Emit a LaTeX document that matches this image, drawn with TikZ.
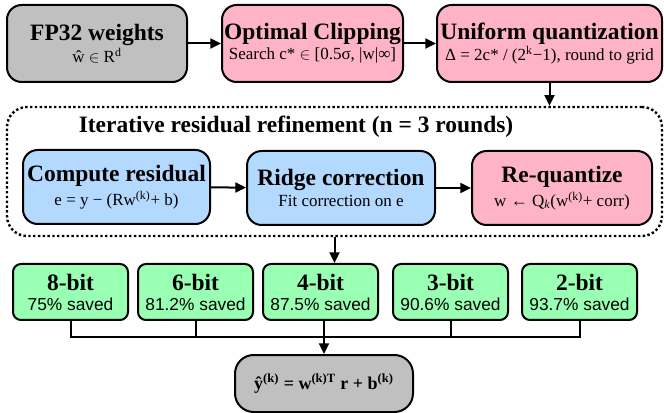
\documentclass[tikz,border=0pt]{standalone}
\usepackage{fontspec}
\setmainfont{Liberation Serif}
\setsansfont{Liberation Sans}
\usetikzlibrary{arrows.meta}

\definecolor{fpgray}{HTML}{C0C0C0}
\definecolor{qpink}{HTML}{FFB3C6}
\definecolor{rblue}{HTML}{B3D9FF}
\definecolor{bgreen}{HTML}{99FFB3}

\newcommand{\hd}{\fontsize{17.6}{18}\selectfont\bfseries}
\newcommand{\subtxt}{\fontsize{12.75}{15}\selectfont}
\newcommand{\savedtxt}{\fontsize{13}{15}\selectfont\sffamily}

\begin{document}
\begin{tikzpicture}
  [x=0.75pt, y=-0.75pt,
   box/.style={draw, line width=1.5pt, rounded corners=11pt, align=center, inner sep=0pt},
   stage/.style={box, minimum height=57.75pt},
   inner/.style={box, fill=rblue, minimum height=55.5pt},
   bitbox/.style={box, fill=bgreen, rounded corners=6pt, minimum width=86.25pt, minimum height=42pt},
   arr/.style={line width=1.5pt, -{Triangle[length=8pt,width=7.5pt]}},
   link/.style={line width=1.5pt}]
  \useasboundingbox (0,0) rectangle (664,413);

  \node[stage, fill=fpgray, minimum width=135pt] (fp) at (97,43.5)
    {{\hd FP32 weights}\\[1pt]{\subtxt ŵ $\in$ R\textsuperscript{d}}};
  \node[stage, fill=qpink, minimum width=135.75pt] (clip) at (312.5,43.5)
    {{\hd Optimal Clipping}\\[1pt]{\subtxt Search c* $\in$ [0.5σ, |w|∞]}};
  \node[stage, fill=qpink, minimum width=168.75pt] (unif) at (549.5,43.5)
    {{\hd Uniform quantization}\\[1pt]{\subtxt Δ = 2c* / (2\textsuperscript{k}−1), round to grid}};

  \node[draw, line width=1.8pt, dash pattern=on 1.8pt off 1.8pt, rounded corners=15pt,
        minimum width=491.25pt, minimum height=96.75pt] (loop) at (334.5,171.5) {};
  \node[font=\hd] (looptitle) at (296,127) {Iterative residual refinement (n = 3 rounds)};

  \node[inner, minimum width=140.25pt] (resid) at (116.5,187)
    {{\hd Compute residual}\\[2.5pt]{\subtxt e = y − (Rw\textsuperscript{(k)}+ b)}};
  \node[inner, minimum width=141pt] (ridge) at (341,188)
    {{\hd Ridge correction}\\[2.5pt]{\subtxt Fit correction on e}};
  \node[inner, fill=qpink, minimum width=135pt] (requant) at (562,188)
    {{\hd Re-quantize}\\[2.5pt]{\subtxt w ← Q\textsubscript{\textit{k}}(w\textsuperscript{(k)}+ corr)}};

  \node[bitbox] (b8) at (70.5,292) {{\hd 8-bit}\\[3pt]{\savedtxt 75\% saved}};
  \node[bitbox] (b6) at (195.5,292) {{\hd 6-bit}\\[3pt]{\savedtxt 81.2\% saved}};
  \node[bitbox] (b4) at (320.5,292) {{\hd 4-bit}\\[3pt]{\savedtxt 87.5\% saved}};
  \node[bitbox] (b3) at (450.5,292) {{\hd 3-bit}\\[3pt]{\savedtxt 90.6\% saved}};
  \node[bitbox] (b2) at (579.5,292) {{\hd 2-bit}\\[3pt]{\savedtxt 93.7\% saved}};

  \node[box, fill=fpgray, rounded corners=14pt, minimum width=133.5pt, minimum height=42.75pt,
        font=\fontsize{13.5}{16}\selectfont\bfseries] (out) at (324,383.5)
    {ŷ\textsuperscript{(k)} = w\textsuperscript{(k)T} r + b\textsuperscript{(k)}};

  \coordinate (bus) at (0,337);

  \draw[arr] (fp) -- (clip);
  \draw[arr] (clip) -- (unif);
  \draw[arr] (unif.south) -- (unif.south |- loop.north);
  \draw[arr] (resid) -- (ridge);
  \draw[arr] (ridge) -- (requant);
  \draw[arr] (loop.south) -- (loop.south |- b4.north);
  \draw[link] (b8.south) -- (b8.south |- bus) -- (b2.south |- bus) -- (b2.south);
  \draw[link] (b6.south) -- (b6.south |- bus);
  \draw[link] (b3.south) -- (b3.south |- bus);
  \draw[arr] (out.north |- b4.south) -- (out.north);
\end{tikzpicture}
\end{document}
